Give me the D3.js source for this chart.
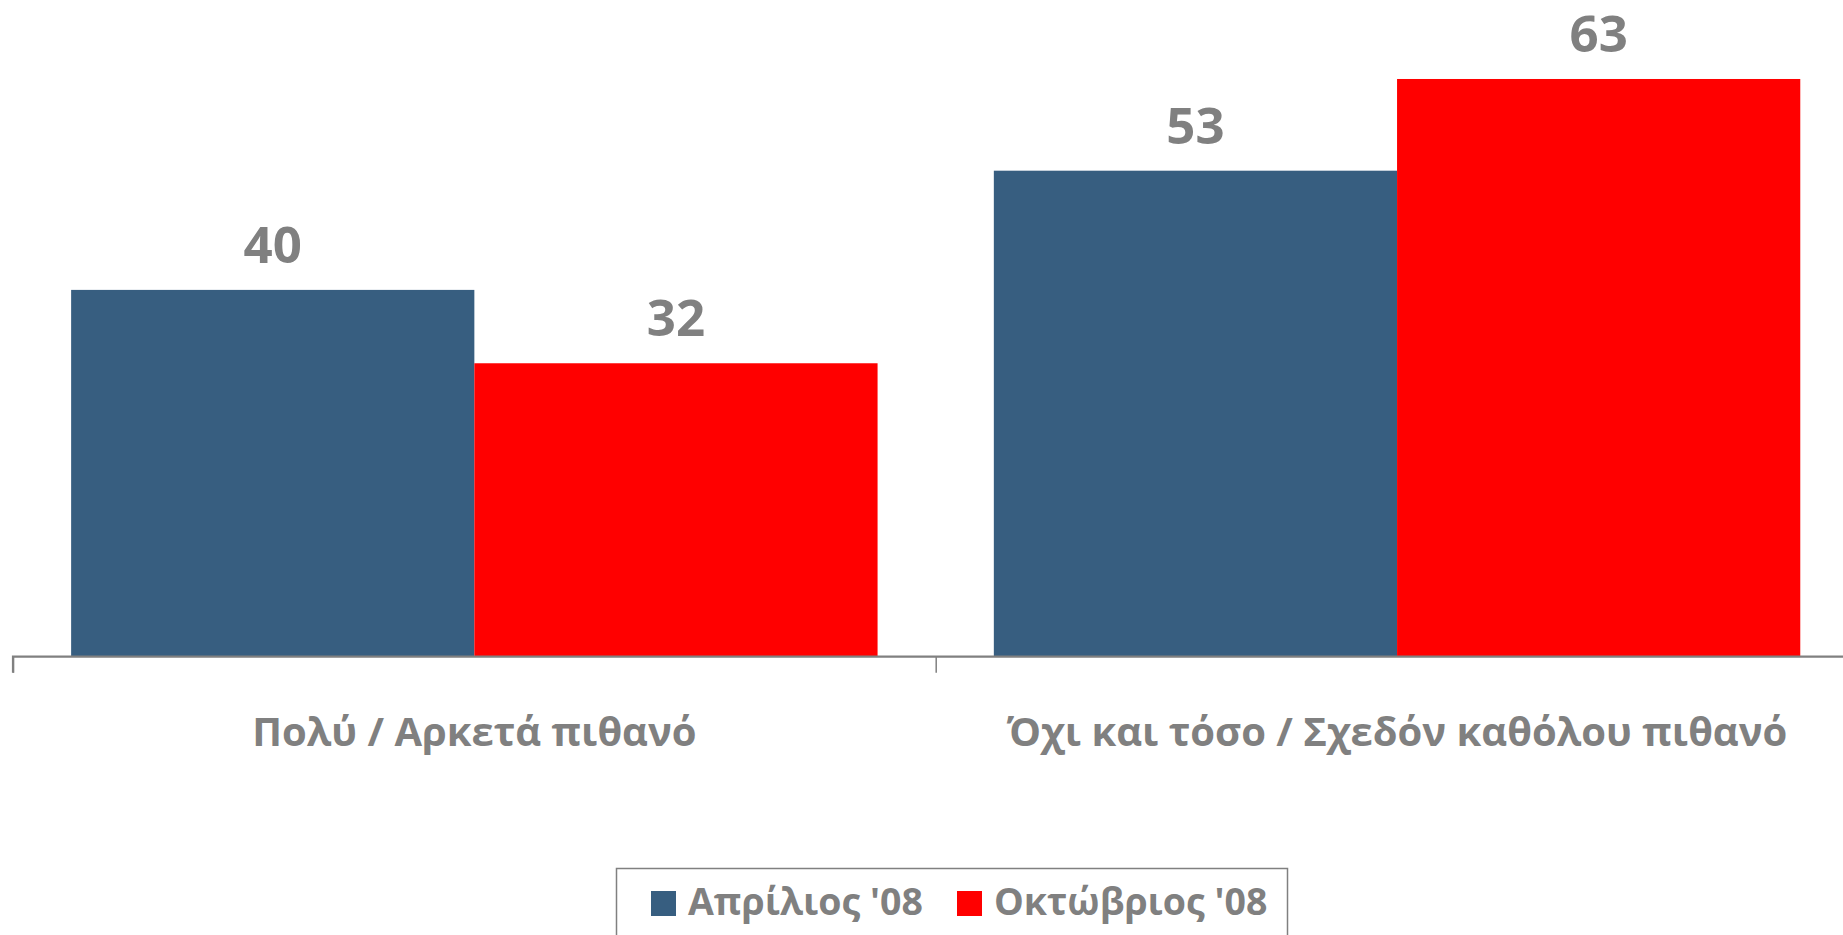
<!DOCTYPE html>
<html>
<head>
<meta charset="utf-8">
<script src="https://cdn.jsdelivr.net/npm/d3@7"></script>
<style>
  html, body { margin: 0; padding: 0; background: #fff; }
  svg { display: block; }
  text { font-family: "Open Sans", "Noto Sans", sans-serif; font-weight: bold; fill: #808080; }
</style>
</head>
<body>
<svg id="chart" width="1843" height="935"></svg>
<script>
const categories = ["Πολύ / Αρκετά πιθανό", "Όχι και τόσο / Σχεδόν καθόλου πιθανό"];
const seriesNames = ["Απρίλιος '08", "Οκτώβριος '08"];
const seriesColors = ["#375E80", "#FF0000"];
const april = [40, 53];
const october = [32, 63];
const seriesValues = [april, october];

const W = 1843, H = 935;
const svg = d3.select("#chart");

const x0 = d3.scaleBand().domain(categories).range([13, 1858.4]).padding(0);
const x1 = d3.scaleBand().domain(seriesNames)
  .range([x0.bandwidth() * 0.063, x0.bandwidth() * 0.937]).padding(0);
const y = d3.scaleLinear().domain([0, 70]).range([656.7, 14.8]);

// bars
const groups = svg.append("g").selectAll("g")
  .data(categories).join("g")
  .attr("transform", d => `translate(${x0(d)},0)`);

groups.selectAll("rect")
  .data((c, ci) => seriesNames.map((s, si) => ({ s, v: seriesValues[si][ci], si })))
  .join("rect")
  .attr("x", d => x1(d.s))
  .attr("width", x1.bandwidth())
  .attr("y", d => y(d.v))
  .attr("height", d => y(0) - y(d.v))
  .attr("fill", d => seriesColors[d.si]);

groups.selectAll("text.val")
  .data((c, ci) => seriesNames.map((s, si) => ({ s, v: seriesValues[si][ci], si })))
  .join("text")
  .attr("class", "val")
  .attr("x", d => x1(d.s) + x1.bandwidth() / 2)
  .attr("y", d => y(d.v) - 27)
  .attr("text-anchor", "middle")
  .style("font-size", "51px")
  .text(d => d.v);

// x axis
const axis = d3.axisBottom(x0).tickSize(16).tickFormat("");
const ag = svg.append("g").attr("transform", `translate(0,${y(0)})`).call(axis);
ag.select(".domain").attr("stroke", "#808080").attr("stroke-width", 2.2)
  .attr("d", `M13,16V0H1858.4`);
ag.selectAll(".tick").attr("transform", d => `translate(${x0(d) + 0.5},0)`);
ag.selectAll(".tick line").attr("stroke", "#808080").attr("stroke-width", 1.5);

// category labels
svg.append("g").selectAll("text")
  .data(categories).join("text")
  .attr("x", d => x0(d) + x0.bandwidth() / 2)
  .attr("y", 746)
  .attr("text-anchor", "middle")
  .style("font-size", "40px")
  .text(d => d);

// legend
const lg = svg.append("g");
lg.append("rect")
  .attr("x", 616.5).attr("y", 868.5).attr("width", 671).attr("height", 80)
  .attr("fill", "none").attr("stroke", "#808080").attr("stroke-width", 1.5);
const legendX = [651, 957];
const items = lg.selectAll("g.item").data(seriesNames).join("g")
  .attr("class", "item")
  .attr("transform", (d, i) => `translate(${legendX[i]},891)`);
items.append("rect").attr("width", 25).attr("height", 25)
  .attr("fill", (d, i) => seriesColors[i]);
items.append("text").attr("x", 37).attr("y", 24)
  .style("font-size", "37.5px")
  .text(d => d);
</script>
</body>
</html>
